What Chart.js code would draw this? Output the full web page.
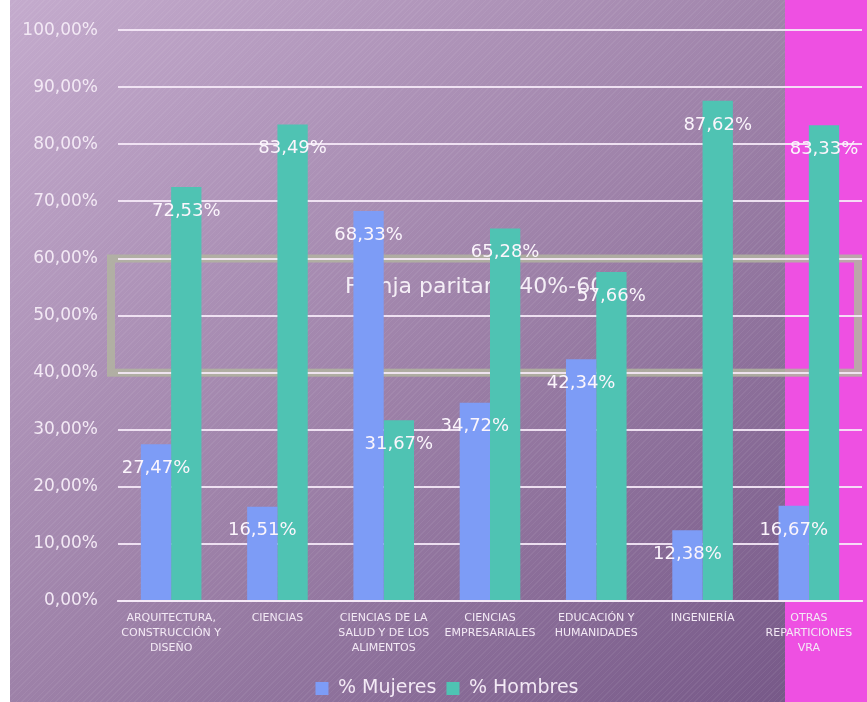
<!DOCTYPE html>
<html>
<head>
<meta charset="utf-8">
<script src="https://cdn.jsdelivr.net/npm/chart.js@4.4.1/dist/chart.umd.min.js"></script>
<style>
  html, body { margin: 0; padding: 0; background: #fff; overflow: hidden; width: 867px; height: 702px; }
  #bg { position: absolute; left: 10px; top: 0; width: 857px; height: 702px;
        background: repeating-linear-gradient(135deg, rgba(255,255,255,0.06) 0 1px, rgba(255,255,255,0) 1px 4px),
                    linear-gradient(to bottom right, #c4abcd, #9d81a8 50%, #735585); }
  #strip { position: absolute; left: 785px; top: 0; width: 82px; height: 702px; background: #ee50e2; }
  #chart { position: absolute; left: 0; top: 0; }
</style>
</head>
<body>
<div id="bg"></div>
<div id="strip"></div>
<canvas id="chart" width="867" height="708"></canvas>
<script>
// data
var categories = [
	['ARQUITECTURA,', 'CONSTRUCCIÓN Y', 'DISEÑO'],
	['CIENCIAS'],
	['CIENCIAS DE LA', 'SALUD Y DE LOS', 'ALIMENTOS'],
	['CIENCIAS', 'EMPRESARIALES'],
	['EDUCACIÓN Y', 'HUMANIDADES'],
	['INGENIERÍA'],
	['OTRAS', 'REPARTICIONES', 'VRA']
];
var mujeres = [27.47, 16.51, 68.33, 34.72, 42.34, 12.38, 16.67];
var hombres = [72.53, 83.49, 31.67, 65.28, 57.66, 87.62, 83.33];
var seriesNames = ['% Mujeres', '% Hombres'];
var bandLow = 40;
var bandHigh = 60;
var bandText = 'Franja paritaria 40%-60%';

var font = 'DejaVu Sans';
var lightText = '#f3e9f5';
var gridColor = 'rgba(246,234,248,0.9)';

function pct(v) {
	return v.toFixed(2).replace('.', ',') + '%';
}

// let the y labels run left of the padded axis box (labels are clipped to it)
var widenAxis = {
	id: 'widenAxis',
	afterLayout: function(chart) {
		chart.scales.y.left = 10;
	}
};

// gray "franja paritaria" box, under the grid
var bandBox = {
	id: 'bandBox',
	beforeDraw: function(chart) {
		var ctx = chart.ctx;
		var a = chart.chartArea;
		var y = chart.scales.y;
		var top = y.getPixelForValue(bandHigh);
		var bottom = y.getPixelForValue(bandLow);
		ctx.save();
		ctx.strokeStyle = 'rgba(178,180,160,0.85)';
		ctx.lineWidth = 8;
		ctx.strokeRect(a.left - 7, top, a.right - 4 - (a.left - 7), bottom - top);
		ctx.restore();
	},
	beforeDatasetsDraw: function(chart) {
		var ctx = chart.ctx;
		var a = chart.chartArea;
		var y = chart.scales.y;
		// text sits in the upper half of the band
		var ty = y.getPixelForValue(bandLow + (bandHigh - bandLow) * 0.75);
		ctx.save();
		ctx.font = '22px "' + font + '"';
		ctx.fillStyle = '#f4eef6';
		ctx.textAlign = 'center';
		ctx.textBaseline = 'middle';
		ctx.fillText(bandText, (a.left + a.right) / 2 - 5, ty);
		ctx.restore();
	}
};

// value labels just inside the top of each bar
var valueLabels = {
	id: 'valueLabels',
	afterDatasetsDraw: function(chart) {
		var ctx = chart.ctx;
		ctx.save();
		ctx.font = '18px "' + font + '"';
		ctx.fillStyle = '#fbf5fc';
		ctx.textAlign = 'center';
		ctx.textBaseline = 'middle';
		chart.data.datasets.forEach(function(ds, i) {
			chart.getDatasetMeta(i).data.forEach(function(bar, j) {
				ctx.fillText(pct(ds.data[j]), bar.x, bar.y + 24);
			});
		});
		ctx.restore();
	}
};

var ctx = document.getElementById('chart');
var chart = new Chart(ctx, {
	type: 'bar',
	data: {
		labels: categories,
		datasets: [
			{ label: seriesNames[0], data: mujeres, backgroundColor: '#7d9cf6' },
			{ label: seriesNames[1], data: hombres, backgroundColor: '#4fc3b3' }
		]
	},
	options: {
		responsive: false,
		devicePixelRatio: 1,
		animation: false,
		categoryPercentage: 0.57,
		barPercentage: 1,
		layout: { padding: { left: 32, right: 5, top: 26, bottom: 0 } },
		plugins: {
			legend: {
				position: 'bottom',
				labels: {
					color: lightText,
					font: { family: font, size: 19 },
					boxWidth: 13,
					boxHeight: 13,
					padding: 10
				}
			},
			tooltip: { enabled: false }
		},
		scales: {
			x: {
				grid: { display: false, drawTicks: false },
				border: { color: gridColor, width: 2 },
				ticks: {
					color: lightText,
					font: { family: font, size: 11, lineHeight: 1.35 },
					padding: 10,
					maxRotation: 0,
					autoSkip: false
				},
				afterFit: function(s) { s.height = 68; }
			},
			y: {
				min: 0,
				max: 100,
				grid: { color: gridColor, lineWidth: 2, drawTicks: false },
				border: { display: false },
				ticks: {
					stepSize: 10,
					color: lightText,
					font: { family: font, size: 17 },
					padding: 20,
					callback: function(v) { return pct(v); }
				},
				afterFit: function(s) { s.width = 86; }
			}
		}
	},
	plugins: [widenAxis, bandBox, valueLabels]
});
</script>
</body>
</html>
